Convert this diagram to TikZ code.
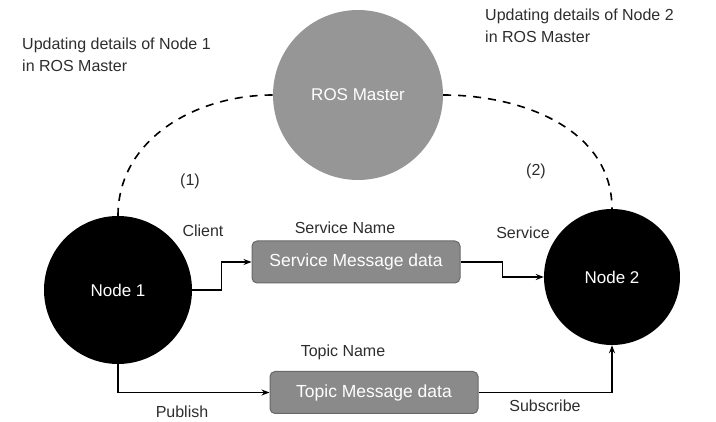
\documentclass[tikz,border=0pt]{standalone}
\usepackage{fontspec}
\setmainfont{Liberation Sans}
\usetikzlibrary{arrows.meta}
\definecolor{masterfill}{RGB}{150,150,150}
\definecolor{boxfill}{RGB}{138,138,138}
\definecolor{boxedge}{RGB}{105,105,105}
\definecolor{labelgray}{RGB}{45,45,45}
\begin{document}
\begin{tikzpicture}[x=1pt,y=-1pt,
  lbl/.style={font=\fontsize{16}{22}\selectfont, text=labelgray, inner sep=0pt},
  master/.style={circle, fill=masterfill, draw=none, minimum size=170pt, inner sep=0pt,
    text=white, font=\fontsize{17}{20}\selectfont},
  rosnode/.style={circle, fill=black, draw=none, inner sep=0pt,
    text=white, font=\fontsize{17}{20}\selectfont},
  msgbox/.style={rectangle, rounded corners=5pt, fill=boxfill, draw=boxedge, line width=1pt,
    minimum width=208pt, minimum height=42pt, inner sep=0pt,
    text=white, font=\fontsize{17.5}{20}\selectfont},
  conn/.style={line width=1.4pt, -{Stealth[length=8pt,width=6pt]}},
  reg/.style={line width=1.6pt, dash pattern=on 8pt off 7pt}
]
\useasboundingbox (0,0) rectangle (716,422);

% nodes
\node[master] (master) at (358,95) {ROS Master};
\node[rosnode, minimum size=148pt] (n1) at (118,290) {Node 1};
\node[rosnode, minimum size=136pt] (n2) at (612,277) {Node 2};
\node[msgbox] (svc) at (356,262) {Service Message data};
\node[msgbox] (topic) at (374,392.5) {Topic Message data};

% registration with the master
\draw[reg] (n1.north) to[out=90,in=180] (master.west);
\draw[reg] (master.east) to[out=0,in=90] (n2.north);

% service and topic connections
\draw[conn] (n1.east) -- ++(29,0) |- (svc.west);
\draw[conn] (svc.east) -- ++(42,0) |- (n2.west);
\draw[conn] (n1.south) |- (topic.west);
\draw[conn] (topic.east) -| (n2.south);

% labels
\node[lbl, anchor=north west, align=left] (upd1) at (22,38) {Updating details of Node 1\\in ROS Master};
\node[lbl, anchor=north west, align=left] (upd2) at (485,9) {Updating details of Node 2\\in ROS Master};
\node[lbl] (r1) at (190,181) {(1)};
\node[lbl] (r2) at (536,171) {(2)};
\node[lbl] (client) at (203,231) {Client};
\node[lbl] (sname) at (345,228) {Service Name};
\node[lbl] (service) at (523,233) {Service};
\node[lbl] (tname) at (343,352) {Topic Name};
\node[lbl] (publish) at (182,412) {Publish};
\node[lbl] (subscribe) at (545,406) {Subscribe};
\end{tikzpicture}
\end{document}
